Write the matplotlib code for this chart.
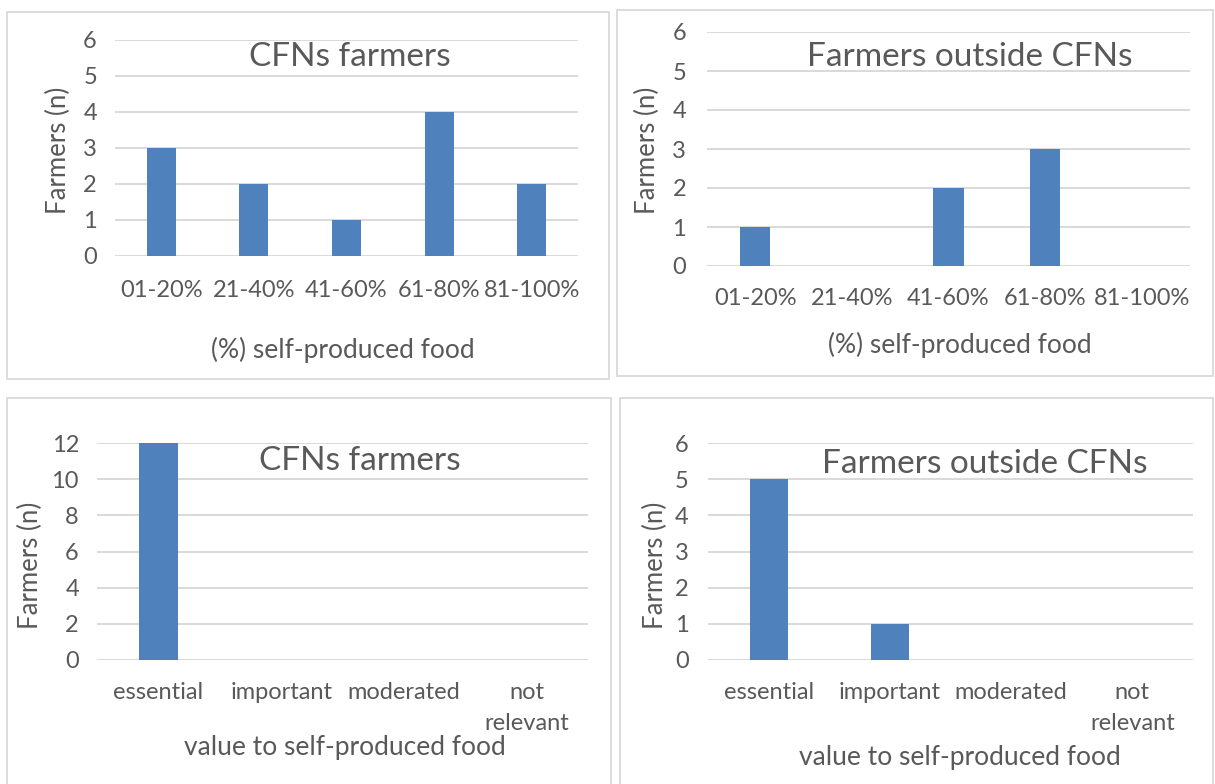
import matplotlib

matplotlib.use("Agg")
import matplotlib.pyplot as plt
from matplotlib.patches import Rectangle

# Share of self-produced food
share_labels = ["01-20%", "21-40%", "41-60%", "61-80%", "81-100%"]
share_cfn = [3, 2, 1, 4, 2]
share_outside = [1, 0, 2, 3, 0]

# Value given to self-produced food
value_labels = ["essential", "important", "moderated", "not\nrelevant"]
value_cfn = [12, 0, 0, 0]
value_outside = [5, 1, 0, 0]

W, H = 1215, 784
BAR = "#4F81BD"
GRID = "#D9D9D9"
TEXT = "#595959"

plt.rcParams["font.family"] = ["Lato", "DejaVu Sans"]


def fx(px):
    return px / W


def fy(py):
    return 1 - py / H


def panel(fig, box, area, values, labels, ymax, ystep, title, title_xy,
          ylabel_xy, xlabel, xlabel_xy, xpad, ypad):
    # panel frame
    bx0, by0, bx1, by1 = box
    fig.patches.append(Rectangle((fx(bx0), fy(by1)), fx(bx1 - bx0), (by1 - by0) / H,
                                 transform=fig.transFigure, fill=False,
                                 edgecolor=GRID, linewidth=1.3))
    x0, y0, x1, y1 = area
    ax = fig.add_axes([fx(x0), fy(y1), fx(x1 - x0), (y1 - y0) / H])
    pos = list(range(len(labels)))
    ax.bar(pos, values, width=0.313, color=BAR, zorder=3)
    ax.set_xlim(-0.5, len(labels) - 0.5)
    ax.set_ylim(0, ymax)
    ax.set_yticks(range(0, ymax + 1, ystep))
    ax.set_xticks(pos)
    ax.set_xticklabels(labels, fontsize=17, color=TEXT, linespacing=1.55)
    ax.tick_params(axis="y", labelsize=17, labelcolor=TEXT, length=0, pad=ypad)
    ax.tick_params(axis="x", length=0, pad=xpad)
    ax.grid(axis="y", color=GRID, linewidth=1.4, zorder=0)
    for s in ax.spines.values():
        s.set_visible(False)
    fig.text(fx(title_xy[0]), fy(title_xy[1]), title, fontsize=24, color=TEXT,
             ha="center", va="center")
    fig.text(fx(ylabel_xy[0]), fy(ylabel_xy[1]), "Farmers (n)", fontsize=18.5,
             color=TEXT, rotation=90, ha="center", va="center")
    fig.text(fx(xlabel_xy[0]), fy(xlabel_xy[1]), xlabel, fontsize=19,
             color=TEXT, ha="center", va="center")
    return ax


fig = plt.figure(figsize=(W / 100, H / 100), dpi=100)

panel(fig, (7, 12, 609, 379), (115, 40, 578, 256), share_cfn, share_labels,
      6, 1, "CFNs farmers", (350, 57), (58, 150),
      "(%) self-produced food", (343, 350), 17, 13)
panel(fig, (617, 10, 1213, 376), (707, 32, 1190, 266), share_outside, share_labels,
      6, 1, "Farmers outside CFNs", (970, 57), (647, 150),
      "(%) self-produced food", (960, 345), 16, 15)
panel(fig, (7, 398, 611, 790), (97, 443, 588, 660), value_cfn, value_labels,
      12, 2, "CFNs farmers", (360, 461), (30, 565),
      "value to self-produced food", (345, 748), 16, 13)
panel(fig, (620, 398, 1213, 790), (708, 443, 1193, 660), value_outside, value_labels,
      6, 1, "Farmers outside CFNs", (985, 464), (655, 565),
      "value to self-produced food", (960, 757), 16, 14)

fig.savefig("out.png", dpi=100)
